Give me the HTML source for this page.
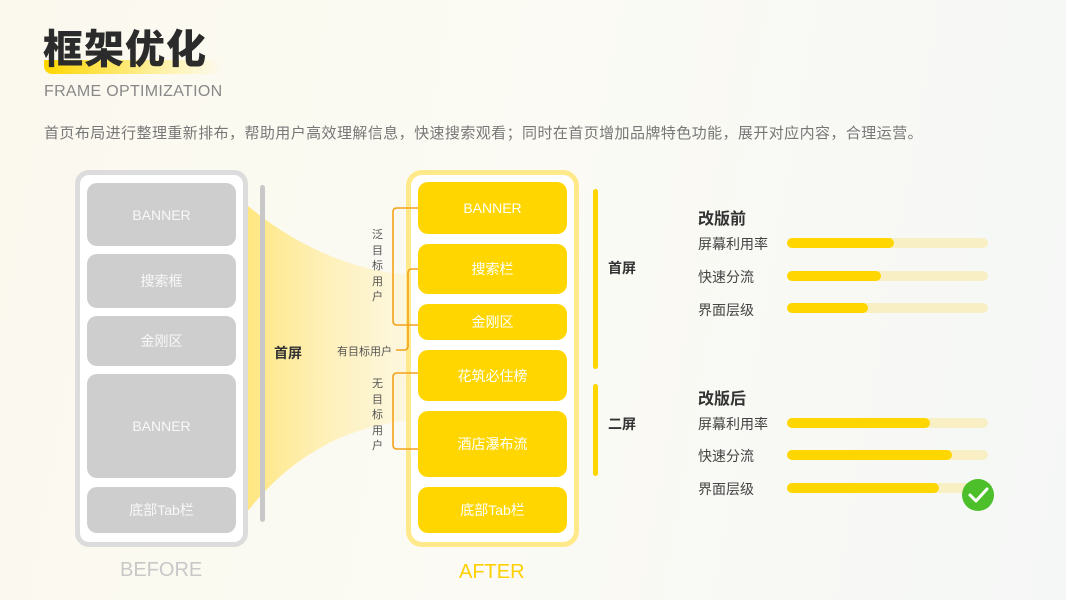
<!DOCTYPE html>
<html><head><meta charset="utf-8"><style>
*{margin:0;padding:0;box-sizing:border-box}
body{width:1066px;height:600px;overflow:hidden;position:relative;font-family:"Liberation Sans","Noto Sans CJK SC",sans-serif;background:linear-gradient(100deg,#fbf9ee 0%,#fbfaf4 50%,#f5f7f6 100%)}
.a{position:absolute}
.blk{position:absolute;border-radius:10px;display:flex;align-items:center;justify-content:center;font-size:14px;color:#fff}
.g{background:#cecece;left:87px;width:149px;color:#f8f8f8}
.y{background:#ffd600;left:418px;width:149px}
.lab{position:absolute;font-size:14px;color:#444}
.bar{position:absolute;left:787px;width:201px;height:10px;border-radius:5px;background:#f8f0c4}
.bar i{position:absolute;left:0;top:0;height:10px;border-radius:5px;background:#ffd600}
</style></head><body>
<div class="a" style="left:44px;top:60px;width:178px;height:14px;border-radius:0 0 0 8px;background:linear-gradient(90deg,#ffd600,#fff3b0 70%,rgba(255,243,176,0))"></div>
<div class="a" style="left:43px;top:26px;font-size:40px;font-weight:900;color:#2b2b2b;letter-spacing:1px;line-height:48px">框架优化</div>
<div class="a" style="left:44px;top:83px;font-size:16px;color:#888;letter-spacing:0.3px">FRAME OPTIMIZATION</div>
<div class="a" style="left:44px;top:122px;font-size:15px;color:#777;letter-spacing:0.42px;white-space:nowrap">首页布局进行整理重新排布，帮助用户高效理解信息，快速搜索观看；同时在首页增加品牌特色功能，展开对应内容，合理运营。</div>

<svg class="a" style="left:0;top:0" width="1066" height="600">
<defs><linearGradient id="f" x1="0" x2="1"><stop offset="0" stop-color="#ffe680"/><stop offset="1" stop-color="#fff3c4" stop-opacity="0.4"/></linearGradient></defs>
<path d="M247 205 C300 250 360 272 412 275 L412 420 C360 425 300 445 247 512 Z" fill="url(#f)"/>
<rect x="260" y="185" width="5" height="337" rx="2.5" fill="#c8c8c8"/>
<rect x="593" y="189" width="5" height="180" rx="2.5" fill="#ffd600"/>
<rect x="593" y="384" width="5" height="92" rx="2.5" fill="#ffd600"/>
</svg>

<div class="a" style="left:75px;top:170px;width:173px;height:377px;border:5px solid #dcdcdc;border-radius:14px;background:#fff"></div>
<div class="blk g" style="top:183px;height:63px">BANNER</div>
<div class="blk g" style="top:254px;height:54px">搜索框</div>
<div class="blk g" style="top:316px;height:50px">金刚区</div>
<div class="blk g" style="top:374px;height:104px">BANNER</div>
<div class="blk g" style="top:487px;height:46px">底部Tab栏</div>
<div class="a" style="left:120px;top:559px;font-size:20px;color:#c8c8c8">BEFORE</div>

<div class="a" style="left:406px;top:170px;width:173px;height:377px;border:5px solid #ffe98a;border-radius:16px;background:#fff"></div>
<div class="blk y" style="top:182px;height:52px">BANNER</div>
<div class="blk y" style="top:244px;height:50px">搜索栏</div>
<div class="blk y" style="top:304px;height:36px">金刚区</div>
<div class="blk y" style="top:350px;height:51px">花筑必住榜</div>
<div class="blk y" style="top:411px;height:66px">酒店瀑布流</div>
<div class="blk y" style="top:487px;height:46px">底部Tab栏</div>
<div class="a" style="left:459px;top:561px;font-size:20px;color:#ffd000">AFTER</div>

<svg class="a" style="left:0;top:0" width="1066" height="600">
<g fill="none" stroke="#f3a21a" stroke-width="1.6">
<path d="M418 208 H397 Q393 208 393 212 V321 Q393 325 397 325 H418"/>
<path d="M418 269 H412 Q408 269 408 273 V346 Q408 350 404 350 H396"/>
<path d="M418 373 H397 Q393 373 393 377 V445 Q393 449 397 449 H418"/>
</g>
</svg>

<div class="a" style="left:274px;top:343px;font-size:14px;font-weight:bold;color:#333">首屏</div>
<div class="a" style="left:372px;top:228px;font-size:11px;color:#555;width:12px;line-height:15.5px">泛目标用户</div>
<div class="a" style="left:337px;top:343px;font-size:11px;color:#555">有目标用户</div>
<div class="a" style="left:372px;top:377px;font-size:11px;color:#555;width:12px;line-height:15.5px">无目标用户</div>
<div class="a" style="left:608px;top:258px;font-size:14px;font-weight:bold;color:#333">首屏</div>
<div class="a" style="left:608px;top:414px;font-size:14px;font-weight:bold;color:#333">二屏</div>

<div class="a" style="left:698px;top:205px;font-size:16px;font-weight:bold;color:#333">改版前</div>
<div class="lab" style="left:698px;top:234px">屏幕利用率</div>
<div class="lab" style="left:698px;top:267px">快速分流</div>
<div class="lab" style="left:698px;top:300px">界面层级</div>
<div class="bar" style="top:238px"><i style="width:107px"></i></div>
<div class="bar" style="top:271px"><i style="width:94px"></i></div>
<div class="bar" style="top:303px"><i style="width:81px"></i></div>
<div class="a" style="left:698px;top:385px;font-size:16px;font-weight:bold;color:#333">改版后</div>
<div class="lab" style="left:698px;top:414px">屏幕利用率</div>
<div class="lab" style="left:698px;top:446px">快速分流</div>
<div class="lab" style="left:698px;top:479px">界面层级</div>
<div class="bar" style="top:418px"><i style="width:143px"></i></div>
<div class="bar" style="top:450px"><i style="width:165px"></i></div>
<div class="bar" style="top:483px"><i style="width:152px"></i></div>
<svg class="a" style="left:960px;top:477px" width="36" height="36"><circle cx="18" cy="18" r="16" fill="#4cbf2a"/><path d="M10 18 L16 24 L27 12" fill="none" stroke="#fff" stroke-width="3" stroke-linecap="round" stroke-linejoin="round"/></svg>
</body></html>
